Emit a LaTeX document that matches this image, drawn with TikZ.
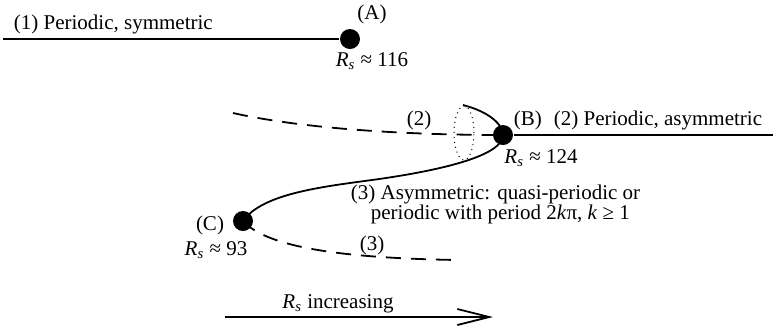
\documentclass[tikz,border=0pt]{standalone}
\usepackage{fontspec}
\setmainfont{Liberation Serif}
\usetikzlibrary{arrows.meta}
\newcommand{\Rsub}{\textit{R}\textsubscript{\textit{s}}}

\begin{document}
\begin{tikzpicture}[x=0.5pt,y=-0.5pt,line width=0.9pt,
  font=\fontsize{10.5}{10}\selectfont,
  dot/.style={circle,fill,inner sep=0pt,minimum size=10pt},
  lbl/.style={inner sep=0pt},
  dsh/.style={dash pattern=on 7.5pt off 5pt}]
\useasboundingbox (0,0) rectangle (773,329);
\node[dot] (A) at (350,39) {};
\node[dot] (B) at (503,135) {};
\node[dot] (C) at (243,221) {};
\coordinate (a0) at (3,39);
\coordinate (b1) at (773,135);
\coordinate (b0) at (233,113);
\coordinate (btop) at (463,105);
\coordinate (bmid) at (372,180);
\coordinate (c1) at (458,260);
\coordinate (r0) at (225,317);
\coordinate (r1) at (493,317);
\draw (a0) -- (A);
\draw (B) -- (b1);
\draw[dsh] (b0) .. controls (300,128) and (400,135) .. (B.center);
\draw[dsh] (C.center) .. controls (265,245) and (330,258) .. (c1);
\draw (btop) .. controls (490,112) and (503,125) .. (B.center)
  .. controls (503,155) and (445,170) .. (bmid)
  .. controls (320,187) and (262,194) .. (C.center);
\draw[dotted,line width=0.5pt] (464,133) ellipse [x radius=5pt,y radius=13.5pt];
\node[lbl,anchor=base west] (t1) at (13,29) {(1) Periodic, symmetric};
\node[lbl] (la) at (372,14) {(A)};
\node[lbl] (ra) at (372,61) {\Rsub\ ≈ 116};
\node[lbl] (l2) at (419,120) {(2)};
\node[lbl,anchor=west] (lb) at (513,120) {(B)};
\node[lbl,anchor=west] (t2) at (553,120) {(2) Periodic, asymmetric};
\node[lbl] (rb) at (541,158) {\Rsub\ ≈ 124};
\node[lbl,anchor=base west] (t3) at (350,199) {(3) Asymmetric: quasi-periodic or};
\node[lbl,anchor=base west] (t4) at (370,219) {periodic with period 2\textit{k}π, \textit{k} ≥ 1};
\node[lbl] (lc) at (210,225) {(C)};
\node[lbl] (rc) at (216,250) {\Rsub\ ≈ 93};
\node[lbl] (l3) at (372,245) {(3)};
\node[lbl,anchor=base] (ri) at (338,308) {\Rsub\ increasing};
\draw[-{Straight Barb[length=16pt,width=8pt]}] (r0) -- (r1);
\end{tikzpicture}
\end{document}
